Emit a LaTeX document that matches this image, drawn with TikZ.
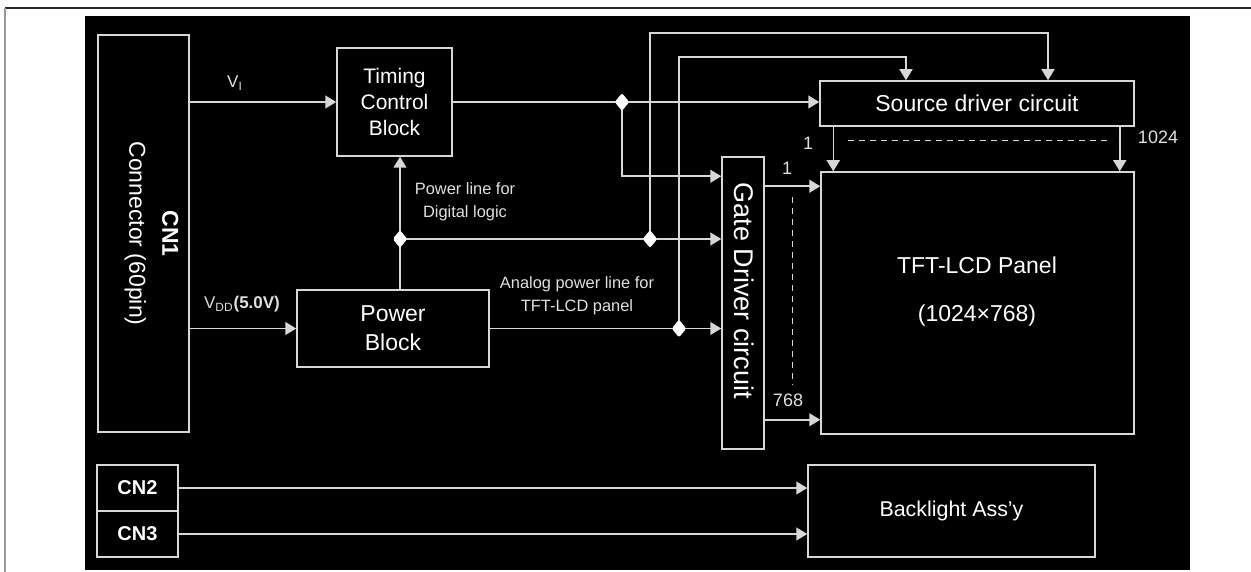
\documentclass[tikz,border=0pt]{standalone}
\usepackage{fontspec}
\setmainfont{Liberation Sans}
\usepackage{tikz}
\usetikzlibrary{shapes,arrows.meta}
\definecolor{wire}{RGB}{215,215,215}

\begin{document}
\begin{tikzpicture}[x=0.5pt,y=-0.5pt,
    box/.style={draw=wire,line width=0.75pt,fill=black,text=white,inner sep=0pt,align=center},
    wirearr/.style={draw=wire,line width=0.75pt,-{Triangle[length=5.5pt,width=6.5pt]}},
    wireln/.style={draw=wire,line width=0.5pt,dash pattern=on 3pt off 2.5pt},
    dot/.style={diamond,fill=white,inner sep=0pt,minimum width=7.5pt,minimum height=9pt,rounded corners=1pt},
    lbl/.style={text=white!88!black,inner sep=0pt,align=center}]
    % Draw the frame
    \useasboundingbox (0,0) rectangle (1251,572);
    \fill[white] (0,0) rectangle (1251,572);
    \draw[line width=1pt,black!85] (5,8) -- (1251,8);
    \draw[line width=1pt,black!40] (5,8) -- (5,572);
    \fill[black] (85,16) rectangle (1190,570);

    % Draw the blocks
    \node[box,minimum width=45.5pt,minimum height=198.5pt] (cn1) at (143.5,233.5) {};
    \node[lbl,text=white,rotate=-90,font=\fontsize{11.5}{16.5}\selectfont] (cn1txt) at (151.5,233.5) {\textbf{CN1}\\Connector (60pin)};
    \node[box,minimum width=57.5pt,minimum height=54pt,font=\fontsize{10.5}{13}\selectfont] (tcb) at (394.5,102) {Timing\\Control\\Block};
    \node[box,minimum width=96pt,minimum height=38.5pt,font=\fontsize{11.5}{14.5}\selectfont] (pwr) at (393,328.5) {Power\\Block};
    \node[box,minimum width=157pt,minimum height=22.5pt,font=\fontsize{11.5}{14}\selectfont] (src) at (977,103.5) {Source driver circuit};
    \node[box,minimum width=21pt,minimum height=146pt] (gate) at (743,303) {};
    \node[lbl,text=white,rotate=-90,font=\fontsize{13.5}{16}\selectfont] (gatetxt) at (744,291) {Gate Driver circuit};
    \node[box,minimum width=156.5pt,minimum height=131pt] (panel) at (977.5,303) {};
    \node[lbl,text=white,font=\fontsize{11.5}{24}\selectfont] (paneltxt) at (977,292) {TFT-LCD Panel\\(1024×768)};
    \node[box,minimum width=40.5pt,minimum height=23pt,font=\bfseries\fontsize{10}{12}\selectfont] (cn2) at (137.5,488) {CN2};
    \node[box,minimum width=40.5pt,minimum height=23pt,font=\bfseries\fontsize{10}{12}\selectfont] (cn3) at (137.5,534) {CN3};
    \node[box,minimum width=143.5pt,minimum height=46pt,font=\fontsize{10.7}{13}\selectfont] (blu) at (951.5,511) {Backlight Ass’y};

    % Junctions and bus corners
    \coordinate (j0) at (400,239);
    \coordinate (j1) at (622,102);
    \coordinate (j2) at (650,239);
    \coordinate (j3) at (679,328.5);
    \coordinate (bus1) at (1048,33);
    \coordinate (bus2) at (906,57);
    \coordinate (g1) at ([yshift=-15pt]gate.north east);
    \coordinate (g768) at ([yshift=15pt]gate.south east);
    \coordinate (s1) at ([xshift=7pt]src.south west);
    \coordinate (s1024) at ([xshift=-7.5pt]src.south east);

    % Draw the signal and power lines
    \draw[wirearr] (cn1.east |- tcb.west) -- (tcb.west);
    \draw[wirearr] (tcb.east) -- (tcb.east -| src.west);
    \draw[wirearr] (j1) |- ([yshift=-10pt]gate.north west);
    \draw[wirearr] (pwr.north -| j0) -- (tcb.south -| j0);
    \draw[wirearr] (j0) -- (j0 -| gate.west);
    \draw[wirearr] (cn1.east |- pwr.west) -- (pwr.west);
    \draw[wirearr] (pwr.east) -- (pwr.east -| gate.west);
    \draw[wirearr] (j2) |- (bus1) -- (bus1 |- src.north);
    \draw[wirearr] (j3) |- (bus2) -- (bus2 |- src.north);
    \draw[wirearr] (s1) -- (s1 |- panel.north);
    \draw[wirearr] (s1024) -- (s1024 |- panel.north);
    \draw[wirearr] (g1) -- (g1 -| panel.west);
    \draw[wirearr] (g768) -- (g768 -| panel.west);
    \draw[wireln] (848,141) -- (1112,141);
    \draw[wireln] (792,197) -- (792,385);
    \draw[wirearr] (cn2.east) -- (cn2.east -| blu.west);
    \draw[wirearr] (cn3.east) -- (cn3.east -| blu.west);

    \node[dot] (j0dot) at (j0) {};
    \node[dot] (j1dot) at (j1) {};
    \node[dot] (j2dot) at (j2) {};
    \node[dot] (j3dot) at (j3) {};

    % Labels
    \node[lbl,font=\fontsize{8.5}{10}\selectfont] (vilbl) at (235,83) {V\textsubscript{I}};
    \node[lbl,font=\fontsize{8.5}{10}\selectfont] (vddlbl) at (242,304) {V\textsubscript{DD}\textbf{(5.0V)}};
    \node[lbl,font=\fontsize{8.2}{11.5}\selectfont] (digilbl) at (465,202) {Power line for\\Digital logic};
    \node[lbl,font=\fontsize{8.2}{11.5}\selectfont] (analbl) at (577,296) {Analog power line for\\TFT-LCD panel};
    \node[lbl,font=\fontsize{9}{11}\selectfont] (s1lbl) at (808,143) {1};
    \node[lbl,font=\fontsize{9}{11}\selectfont] (g1lbl) at (787,168) {1};
    \node[lbl,font=\fontsize{9}{11}\selectfont] (s1024lbl) at (1158,137) {1024};
    \node[lbl,font=\fontsize{9}{11}\selectfont] (g768lbl) at (788,400) {768};
\end{tikzpicture}
\end{document}
